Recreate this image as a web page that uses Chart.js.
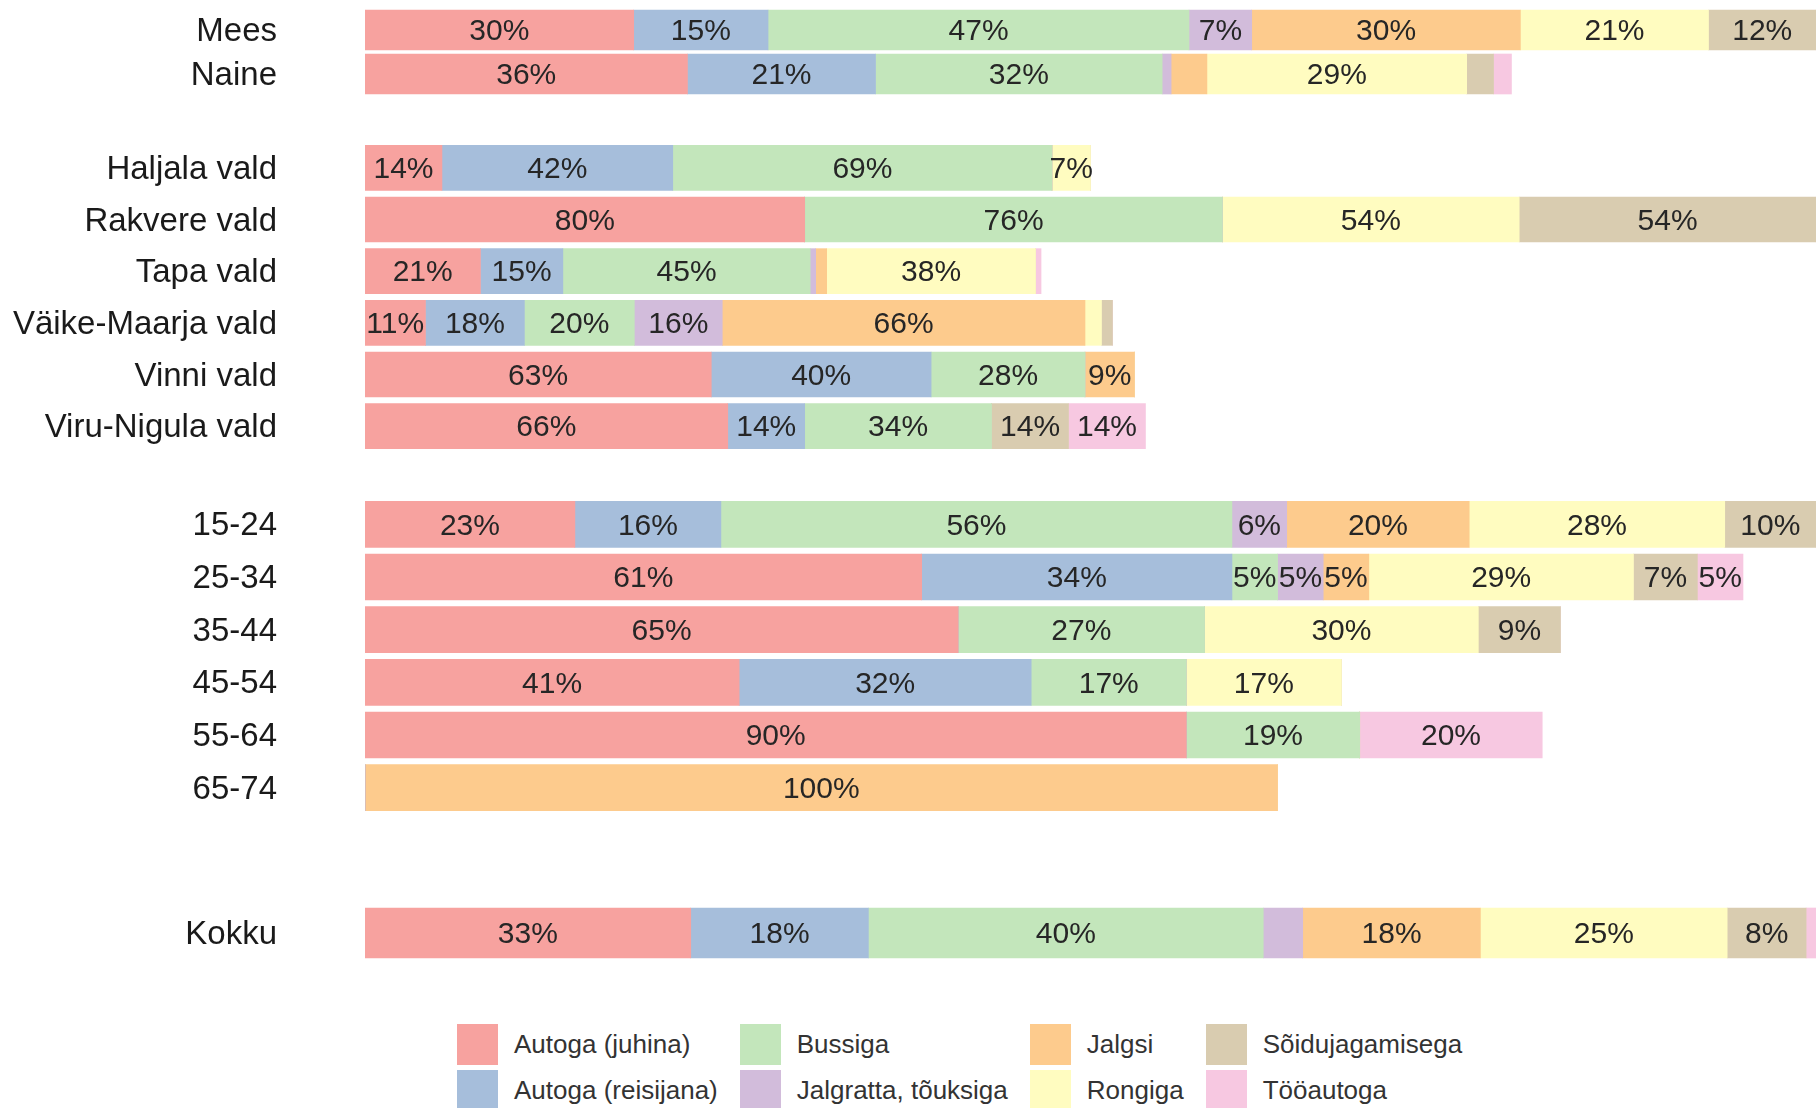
<!DOCTYPE html>
<html>
<head>
<meta charset="utf-8">
<script src="https://cdn.jsdelivr.net/npm/chart.js@4"></script>
<style>
	body {
		margin: 0;
		background: #fff;
		width: 1816px;
		height: 1108px;
		overflow: hidden;
		position: relative;
		font-family: "Liberation Sans", Arial, sans-serif;
	}
	.panel {
		position: absolute;
		left: 0;
	}
	#legend {
		position: absolute;
		left: 457px;
		top: 1024px;
		display: flex;
		gap: 22px;
	}
	.legend__col {
		display: flex;
		flex-direction: column;
		gap: 5px;
	}
	.legend__item {
		display: flex;
		align-items: center;
		height: 41px;
		font-size: 26px;
		color: #333;
	}
	.legend__box {
		width: 41px;
		height: 41px;
		margin-right: 16px;
	}
</style>
</head>
<body>
<div class="panel" style="top:8px"><canvas id="gender" width="1816" height="88"></canvas></div>
<div class="panel" style="top:142px"><canvas id="region" width="1816" height="310"></canvas></div>
<div class="panel" style="top:498px"><canvas id="age" width="1816" height="316"></canvas></div>
<div class="panel" style="top:903px"><canvas id="total" width="1816" height="60"></canvas></div>
<div id="legend"></div>

<script>
const FONT = '"Liberation Sans", Arial, sans-serif';

// transport modes (series), in drawing order
const modes = [
	"Autoga (juhina)",
	"Autoga (reisijana)",
	"Bussiga",
	"Jalgratta, tõuksiga",
	"Jalgsi",
	"Rongiga",
	"Sõidujagamisega",
	"Tööautoga",
];
const modeColors = [
	"#f7a29f",
	"#a6bedb",
	"#c3e6bb",
	"#d2bcdb",
	"#fdcb8d",
	"#fffcc0",
	"#d9ccb0",
	"#f7c8e1",
];

// each row: % per mode, same order as modes
const genderLabels = ["Mees", "Naine"];
const genderValues = [
	[30, 15, 47, 7, 30, 21, 12, 0],
	[36, 21, 32, 1, 4, 29, 3, 2],
];

const regionLabels = [
	"Haljala vald",
	"Rakvere vald",
	"Tapa vald",
	"Väike-Maarja vald",
	"Vinni vald",
	"Viru-Nigula vald",
];
const regionValues = [
	[14, 42, 69, 0, 0, 7, 0, 0],
	[80, 0, 76, 0, 0, 54, 54, 0],
	[21, 15, 45, 1, 2, 38, 0, 1],
	[11, 18, 20, 16, 66, 3, 2, 0],
	[63, 40, 28, 0, 9, 0, 0, 0],
	[66, 14, 34, 0, 0, 0, 14, 14],
];

const ageLabels = ["15-24", "25-34", "35-44", "45-54", "55-64", "65-74"];
const ageValues = [
	[23, 16, 56, 6, 20, 28, 10, 0],
	[61, 34, 5, 5, 5, 29, 7, 5],
	[65, 0, 27, 0, 0, 30, 9, 0],
	[41, 32, 17, 0, 0, 17, 0, 0],
	[90, 0, 19, 0, 0, 0, 0, 20],
	[0, 0, 0, 0, 100, 0, 0, 0],
];

const totalLabels = ["Kokku"];
const totalValues = [[33, 18, 40, 4, 18, 25, 8, 1]];

// write the % inside every segment that is big enough
const segmentLabels = {
	id: "segmentLabels",
	afterDatasetsDraw(chart) {
		const ctx = chart.ctx;
		ctx.save();
		ctx.font = "30px " + FONT;
		ctx.fillStyle = "#262626";
		ctx.textAlign = "center";
		ctx.textBaseline = "middle";
		chart.data.datasets.forEach((ds, j) => {
			chart.getDatasetMeta(j).data.forEach((bar, i) => {
				const v = ds.data[i];
				if (v >= 5) ctx.fillText(v + "%", (bar.x + bar.base) / 2, bar.y + 2);
			});
		});
		ctx.restore();
	},
};

function sumRow(row) {
	return row.reduce((a, b) => a + b, 0);
}

function renderPanel(id, labels, values, thickness) {
	// every panel is scaled so its longest row fills the width
	const maxTotal = Math.max(...values.map(sumRow));
	const datasets = modes.map((mode, j) => ({
		label: mode,
		data: values.map((row) => row[j]),
		backgroundColor: modeColors[j],
		borderWidth: 0,
		barThickness: thickness,
	}));

	return new Chart(document.getElementById(id), {
		type: "bar",
		data: { labels: labels, datasets: datasets },
		options: {
			indexAxis: "y",
			responsive: false,
			animation: false,
			layout: { padding: 0 },
			plugins: {
				legend: { display: false },
				tooltip: { enabled: false },
			},
			scales: {
				x: { stacked: true, display: false, min: 0, max: maxTotal },
				y: {
					stacked: true,
					grid: { display: false, drawTicks: false },
					border: { display: false },
					ticks: {
						color: "#1a1a1a",
						font: { size: 33, family: FONT },
						padding: 88,
						labelOffset: 2,
					},
					afterFit: (scale) => {
						// fixed label column; tick padding must not eat the height
						scale.width = 365;
						scale.paddingTop = 0;
						scale.paddingBottom = 0;
					},
				},
			},
		},
		plugins: [segmentLabels],
	});
}

function renderLegend(id) {
	const el = document.getElementById(id);
	// two items per column, read top to bottom
	for (let c = 0; c < modes.length; c += 2) {
		let col = "<div class='legend__col'>";
		for (let k = c; k < c + 2; k++) {
			col += `<div class='legend__item'><span class='legend__box' style='background:${modeColors[k]}'></span>${modes[k]}</div>`;
		}
		el.innerHTML += col + "</div>";
	}
}

renderPanel("gender", genderLabels, genderValues, 40);
renderPanel("region", regionLabels, regionValues, 45);
renderPanel("age", ageLabels, ageValues, 46);
renderPanel("total", totalLabels, totalValues, 50);
renderLegend("legend");
</script>
</body>
</html>
